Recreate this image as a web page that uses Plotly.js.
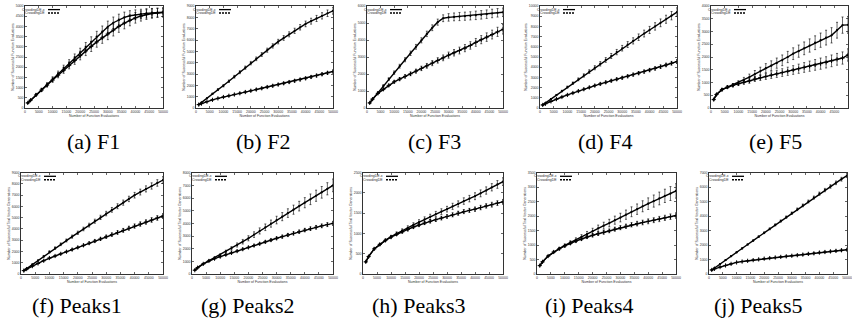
<!DOCTYPE html>
<html>
<head>
<meta charset="utf-8">
<script src="https://cdn.plot.ly/plotly-3.0.1.min.js"></script>
<style>html,body{margin:0;padding:0;background:#fff;}#chart{width:852px;height:324px;}</style>
</head>
<body>
<div id="chart"></div>
<script>
// ---- data ----
const xEval = [1000,2000,4000,6000,8000,10000,12000,14000,16000,18000,20000,22000,24000,26000,28000,30000,32000,34000,36000,38000,40000,42000,44000,46000,48000,50000];
const seriesNames = ['CrowdingDE-x', 'CrowdingDE'];
const captions = ['(a) F1','(b) F2','(c) F3','(d) F4','(e) F5','(f) Peaks1','(g) Peaks2','(h) Peaks3','(i) Peaks4','(j) Peaks5'];
const xTitle = 'Number of Function Evaluations';
const yTitleF = 'Number of Successful Function Evaluations';
const yTitlePeaks = 'Number of Successful Trial Vector Generations';
const yMaxes = [5000, 9000, 6000, 10000, 4000, 9000, 8000, 2500, 3500, 7000];
const yTickSteps = [500, 1000, 1000, 1000, 500, 1000, 1000, 500, 500, 1000];

const f1Up = [250,380,650,900,1150,1420,1680,1950,2200,2460,2720,2980,3240,3500,3750,3980,4180,4330,4440,4520,4570,4610,4640,4660,4680,4690];
const f1Lo = [250,380,640,880,1120,1370,1610,1850,2090,2330,2570,2800,3020,3240,3440,3630,3820,4000,4160,4300,4420,4510,4580,4630,4660,4680];
const f1UpErr = [20,30,50,70,90,110,130,150,170,190,210,230,250,260,270,280,280,270,260,250,240,230,230,220,220,220];
const f1LoErr = [20,30,50,70,90,110,130,150,170,190,210,230,250,260,270,280,290,290,280,270,260,250,240,230,220,220];

const f2Up = [300,480,860,1250,1620,1960,2360,2760,3160,3560,3960,4340,4720,5100,5480,5860,6180,6500,6810,7120,7420,7660,7900,8130,8360,8580];
const f2Lo = [300,390,560,720,850,970,1080,1190,1300,1410,1520,1630,1740,1850,1960,2070,2180,2290,2400,2510,2620,2740,2860,2980,3100,3220];
const f2UpErr = [10,20,40,60,80,100,110,120,130,140,150,160,170,180,190,200,210,220,230,240,250,260,270,280,290,300];
const f2LoErr = [10,15,20,30,40,50,55,60,65,70,75,80,85,90,95,100,100,105,110,110,115,120,120,125,130,130];

const f3Up = [300,500,900,1300,1700,2080,2460,2840,3220,3600,3980,4360,4720,5050,5280,5330,5360,5380,5400,5420,5450,5480,5520,5560,5600,5630];
const f3Lo = [300,520,860,1100,1330,1540,1700,1860,2010,2170,2330,2480,2640,2800,2950,3110,3250,3380,3520,3680,3860,4020,4170,4320,4480,4630];
const f3UpErr = [20,30,50,70,80,100,110,120,130,140,150,160,170,180,200,220,230,240,240,240,250,250,250,250,250,250];
const f3LoErr = [20,30,50,60,70,80,90,100,110,120,130,140,150,160,170,180,190,200,210,220,230,240,250,260,270,280];

const f4Up = [300,490,880,1270,1660,2050,2430,2810,3190,3570,3950,4330,4710,5100,5480,5860,6220,6580,6940,7300,7650,8000,8350,8700,9050,9400];
const f4Lo = [300,420,650,870,1080,1280,1470,1660,1840,2020,2200,2360,2520,2670,2820,2960,3110,3270,3420,3570,3720,3880,4050,4220,4390,4550];
const f4UpErr = [10,20,40,60,80,100,120,140,160,180,200,215,230,245,260,275,290,305,320,335,350,365,380,395,410,420];
const f4LoErr = [10,15,30,40,50,60,70,80,90,100,110,115,120,125,130,135,140,145,150,155,160,165,170,175,180,185];

const f5Up = [330,530,720,820,900,990,1100,1210,1330,1440,1560,1660,1760,1870,2000,2130,2230,2340,2450,2560,2660,2760,2850,3050,3250,3260];
const f5Lo = [330,530,720,820,890,950,1010,1060,1140,1190,1240,1290,1340,1390,1440,1490,1540,1590,1640,1690,1740,1790,1850,1910,1960,2080];
const f5UpErr = [20,30,40,50,60,80,100,120,140,160,180,190,200,210,220,230,240,250,260,270,280,290,300,310,320,330];
const f5LoErr = [20,30,40,50,60,70,80,90,100,110,120,130,140,150,160,170,180,190,200,210,220,220,230,230,240,240];

const p1Up = [300,480,850,1200,1570,1960,2300,2640,2980,3320,3660,4000,4340,4690,5030,5370,5700,6020,6340,6670,7000,7280,7560,7820,8090,8350];
const p1Lo = [300,440,700,940,1180,1420,1600,1790,1980,2170,2360,2550,2740,2930,3120,3310,3500,3690,3880,4070,4260,4440,4620,4800,4980,5150];
const p1UpErr = [10,20,40,60,80,100,110,120,130,140,150,160,170,180,190,200,210,220,230,240,250,260,270,280,290,300];
const p1LoErr = [10,15,25,35,45,55,60,65,70,80,90,100,110,120,130,140,150,160,170,180,190,200,200,210,210,220];

const p2Up = [300,500,800,1050,1280,1500,1760,2020,2290,2550,2820,3110,3400,3690,3980,4260,4530,4810,5080,5360,5630,5900,6180,6450,6730,7000];
const p2Lo = [300,500,800,1030,1210,1370,1520,1670,1810,1960,2100,2250,2390,2540,2680,2820,2950,3080,3210,3340,3470,3580,3690,3800,3900,4000];
const p2UpErr = [10,20,40,60,80,100,120,140,160,180,200,220,240,260,280,300,320,340,360,380,400,420,440,460,480,500];
const p2LoErr = [10,15,25,35,45,55,60,65,70,75,80,85,90,95,100,110,115,120,125,130,135,140,145,150,155,160];

const p3Up = [300,430,620,730,830,920,1000,1070,1140,1210,1280,1350,1410,1480,1540,1600,1670,1730,1800,1860,1920,1990,2060,2140,2210,2280];
const p3Lo = [300,430,620,730,830,910,980,1040,1100,1160,1210,1260,1300,1340,1380,1420,1460,1500,1540,1570,1600,1640,1680,1710,1750,1780];
const p3UpErr = [10,15,20,25,30,35,40,45,50,55,60,60,65,65,70,70,75,75,80,80,85,85,90,90,95,95];
const p3LoErr = [10,15,20,20,25,25,30,30,35,35,40,40,40,45,45,45,50,50,50,50,55,55,55,60,60,60];

const p4Up = [290,420,620,760,880,990,1090,1180,1280,1380,1480,1580,1670,1760,1860,1950,2050,2150,2240,2340,2430,2520,2610,2700,2780,2870];
const p4Lo = [290,420,620,760,870,970,1060,1140,1210,1280,1340,1390,1440,1490,1550,1600,1650,1700,1740,1780,1820,1860,1900,1940,1980,2020];
const p4UpErr = [10,15,20,30,40,50,60,70,80,90,100,110,120,130,140,150,160,170,180,190,200,210,220,230,240,250];
const p4LoErr = [10,15,20,25,30,35,40,45,50,55,60,60,65,65,70,70,75,75,80,80,85,85,90,90,95,95];

const p5Up = [280,420,690,960,1230,1500,1770,2040,2310,2580,2850,3120,3390,3660,3930,4200,4470,4740,5010,5280,5550,5800,6050,6300,6550,6800];
const p5Lo = [280,360,480,590,700,800,860,910,960,1010,1060,1100,1140,1180,1220,1260,1300,1340,1390,1430,1480,1520,1560,1600,1640,1680];
const p5UpErr = [10,15,20,25,30,35,40,45,50,55,60,65,70,75,80,85,90,95,100,105,110,115,120,125,130,135];
const p5LoErr = [10,10,15,15,20,20,25,25,30,30,35,35,40,40,45,45,50,50,55,55,60,60,65,65,70,70];

const upSeries = [f1Up,f2Up,f3Up,f4Up,f5Up,p1Up,p2Up,p3Up,p4Up,p5Up];
const loSeries = [f1Lo,f2Lo,f3Lo,f4Lo,f5Lo,p1Lo,p2Lo,p3Lo,p4Lo,p5Lo];
const upErrs = [f1UpErr,f2UpErr,f3UpErr,f4UpErr,f5UpErr,p1UpErr,p2UpErr,p3UpErr,p4UpErr,p5UpErr];
const loErrs = [f1LoErr,f2LoErr,f3LoErr,f4LoErr,f5LoErr,p1LoErr,p2LoErr,p3LoErr,p4LoErr,p5LoErr];

// ---- layout geometry (pixels -> paper) ----
const W = 852, H = 324;
const xPix = [[25,163],[196,333],[367,503],[540,677],[711,848],[21,163],[192,333],[363,503],[537,676],[709,847]];
const yPix = [[6,108],[172.7,274]];
const capPos = [[93,142],[263,142],[434,142],[605,142],[775,142],[77,305],[247,305],[418,305],[589,305],[758,305]];

const traces = [];
const layout = {
  width: W, height: H,
  margin: {l:0, r:0, t:0, b:0},
  paper_bgcolor: '#fff', plot_bgcolor: '#fff',
  font: {family: 'Liberation Sans, Arial, sans-serif', color: '#000'},
  showlegend: false,
  annotations: [],
  shapes: []
};

const smallFont = {size:3.5, color:'#333', family:'Liberation Sans, Arial, sans-serif'};

for (let i = 0; i < 10; i++) {
  const s = i === 0 ? '' : String(i + 1);
  const row = i < 5 ? 0 : 1;
  const xd = [xPix[i][0] / W, xPix[i][1] / W];
  const yd = [1 - yPix[row][1] / H, 1 - yPix[row][0] / H];
  const errStyle = {type:'data', visible:true, color:'#000', thickness:0.6, width:1};
  traces.push({
    x: xEval, y: upSeries[i], name: seriesNames[0],
    xaxis: 'x' + s, yaxis: 'y' + s,
    mode: 'lines+markers',
    line: {color:'#000', width:1.4},
    marker: {symbol:'circle', size:2.2, color:'#000'},
    error_y: Object.assign({array: upErrs[i]}, errStyle)
  });
  traces.push({
    x: xEval, y: loSeries[i], name: seriesNames[1],
    xaxis: 'x' + s, yaxis: 'y' + s,
    mode: 'lines+markers',
    line: {color:'#000', width:1.4},
    marker: {symbol:'cross-thin', size:3, color:'#000', line:{color:'#000', width:1}},
    error_y: Object.assign({array: loErrs[i]}, errStyle)
  });
  layout['xaxis' + s] = {
    domain: xd, anchor: 'y' + s, range: [0, 50000], tick0: 0, dtick: 5000,
    ticks: 'inside', ticklen: 2, tickwidth: 0.6, tickcolor: '#000', tickformat: 'd',
    showline: true, mirror: 'ticks', linecolor: '#000', linewidth: 0.8,
    showgrid: false, zeroline: false,
    tickfont: smallFont, automargin: false,
    title: {text: xTitle, font: smallFont, standoff: 1}
  };
  layout['yaxis' + s] = {
    domain: yd, anchor: 'x' + s, range: [0, yMaxes[i]], tick0: 0, dtick: yTickSteps[i],
    ticks: 'inside', ticklen: 2, tickwidth: 0.6, tickcolor: '#000', tickformat: 'd',
    showline: true, mirror: 'ticks', linecolor: '#000', linewidth: 0.8,
    showgrid: false, zeroline: false,
    tickfont: smallFont, automargin: false,
    title: {text: i < 5 ? yTitleF : yTitlePeaks, font: smallFont, standoff: 1}
  };
  // gnuplot-style key: right-aligned label followed by a short line sample
  const top = yPix[row][0];
  const left = xPix[i][0];
  for (let k = 0; k < 2; k++) {
    const yRow = top + 3.6 + k * 3.4;
    layout.annotations.push({
      text: seriesNames[k], xref: 'paper', yref: 'paper',
      x: (left + 22) / W, y: 1 - yRow / H, xanchor: 'right', yanchor: 'middle',
      showarrow: false, font: smallFont
    });
    layout.shapes.push({
      type: 'line', xref: 'paper', yref: 'paper',
      x0: (left + 23) / W, x1: (left + 35) / W, y0: 1 - yRow / H, y1: 1 - yRow / H,
      line: {color:'#000', width: k === 0 ? 1.3 : 1.5, dash: k === 0 ? 'solid' : '2px,1px'}
    });
  }
  layout.annotations.push({
    text: captions[i], xref: 'paper', yref: 'paper',
    x: capPos[i][0] / W, y: 1 - capPos[i][1] / H,
    xanchor: 'center', yanchor: 'middle', showarrow: false,
    font: {family: 'Liberation Serif, Times New Roman, serif', size: 22, color: '#000'}
  });
}

Plotly.newPlot('chart', traces, layout, {displayModeBar: false, staticPlot: true});
</script>
</body>
</html>
